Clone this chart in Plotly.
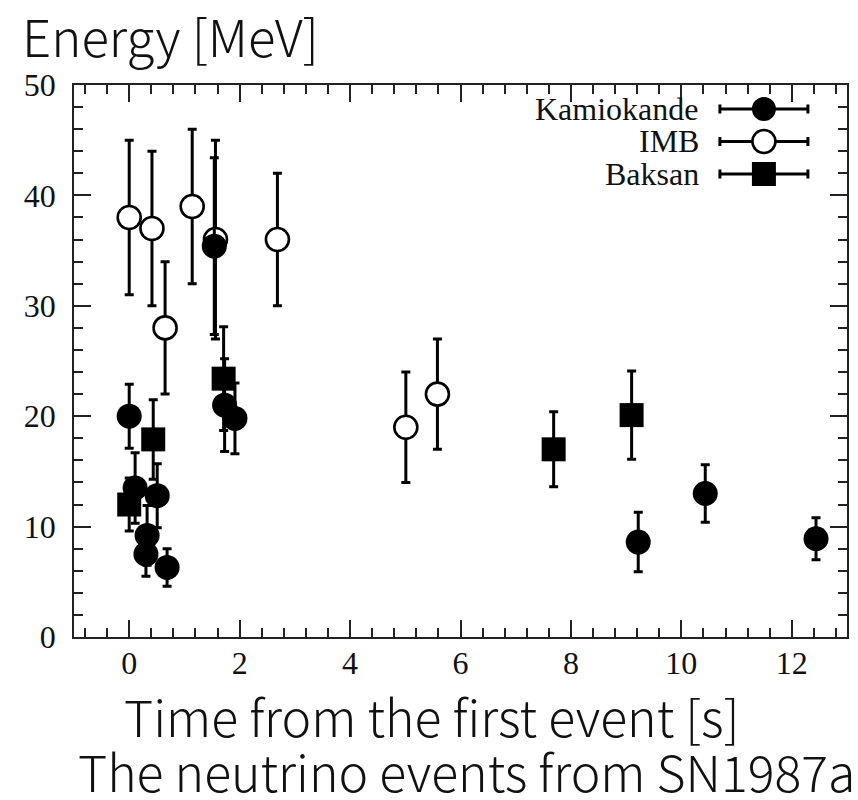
import plotly.graph_objects as go

# SN1987A neutrino events: time after first event [s], energy [MeV], error [MeV]
kam_t = [0.000, 0.107, 0.303, 0.324, 0.507, 0.686, 1.541, 1.728, 1.915, 9.219, 10.433, 12.439]
kam_e = [20.0, 13.5, 7.5, 9.2, 12.8, 6.3, 35.4, 21.0, 19.8, 8.6, 13.0, 8.9]
kam_err = [2.9, 3.2, 2.0, 2.7, 2.9, 1.7, 8.0, 4.2, 3.2, 2.7, 2.6, 1.9]

imb_t = [0.000, 0.412, 0.650, 1.141, 1.562, 2.684, 5.010, 5.582]
imb_e = [38.0, 37.0, 28.0, 39.0, 36.0, 36.0, 19.0, 22.0]
imb_err = [7.0, 7.0, 6.0, 7.0, 9.0, 6.0, 5.0, 5.0]

bak_t = [0.000, 0.435, 1.710, 7.687, 9.099]
bak_e = [12.0, 17.9, 23.4, 17.0, 20.1]
bak_err = [2.4, 3.6, 4.7, 3.4, 4.0]

series_names = ["Kamiokande", "IMB", "Baksan"]

W, H = 858, 800
ML, MR, MT, MB = 74, 9, 85, 163
PW, PH = W - ML - MR, H - MT - MB

SERIF = "Liberation Serif"
SANS = "Noto Sans CJK JP"
INK = "#111111"


def px_x(px):
    return (px - ML) / PW


def px_y(py):
    return (H - MB - py) / PH


def err(arr):
    return dict(type="data", array=arr, visible=True, color="black",
                thickness=3, width=4.5)


fig = go.Figure()

fig.add_trace(go.Scatter(
    x=imb_t, y=imb_e, mode="markers", name=series_names[1],
    error_y=err(imb_err),
    marker=dict(symbol="circle", size=23, color="white",
                line=dict(color="black", width=2.6)),
))
fig.add_trace(go.Scatter(
    x=kam_t, y=kam_e, mode="markers", name=series_names[0],
    error_y=err(kam_err),
    marker=dict(symbol="circle", size=25, color="black", line=dict(width=0)),
))
fig.add_trace(go.Scatter(
    x=bak_t, y=bak_e, mode="markers", name=series_names[2],
    error_y=err(bak_err),
    marker=dict(symbol="square", size=24, color="black", line=dict(width=0)),
))

axis_common = dict(
    showline=True, linecolor="#222222", linewidth=1.5, mirror="allticks",
    ticks="inside", ticklen=17, tickwidth=1.5, tickcolor="#222222",
    showgrid=False, zeroline=False,
    tickfont=dict(family=SERIF, size=32, color=INK),
)

fig.update_xaxes(
    range=[-1, 13], dtick=2, tick0=0, ticklabelstandoff=-3,
    minor=dict(dtick=0.4, tick0=0, ticks="inside", ticklen=9,
               tickwidth=1.5, tickcolor="#222222"),
    **axis_common,
)
fig.update_yaxes(
    range=[0, 50], dtick=10, tick0=0, ticklabelstandoff=10,
    minor=dict(dtick=2, tick0=0, ticks="inside", ticklen=9,
               tickwidth=1.5, tickcolor="#222222"),
    **axis_common,
)

shapes = []
annotations = []

# hand-drawn key with horizontal error-bar samples
key_x = px_x(765.7)
key_rows = [109, 141.5, 174]
for name, row in zip(series_names, key_rows):
    ya = px_y(row)
    base = dict(xref="paper", yref="paper", xsizemode="pixel", ysizemode="pixel",
                xanchor=key_x, yanchor=ya, layer="above")
    shapes.append(dict(type="line", x0=-44, x1=44, y0=0, y1=0,
                       line=dict(color="black", width=3), **base))
    for cx in (-44, 44):
        shapes.append(dict(type="line", x0=cx, x1=cx, y0=-4.5, y1=4.5,
                           line=dict(color="black", width=3), **base))
    if name == "Kamiokande":
        shapes.append(dict(type="circle", x0=-12, x1=12, y0=-12, y1=12,
                           fillcolor="black", line=dict(width=0), **base))
    elif name == "IMB":
        shapes.append(dict(type="circle", x0=-11.5, x1=11.5, y0=-11.5, y1=11.5,
                           fillcolor="white", line=dict(color="black", width=2.6), **base))
    else:
        shapes.append(dict(type="rect", x0=-12, x1=12, y0=-12, y1=12,
                           fillcolor="black", line=dict(width=0), **base))
    annotations.append(dict(
        text=name, xref="paper", yref="paper", x=px_x(703), y=ya,
        xanchor="right", yanchor="middle", showarrow=False,
        font=dict(family=SERIF, size=32, color=INK),
    ))

# white band below the tick labels, under the caption text
shapes.append(dict(type="rect", xref="paper", yref="paper",
                   x0=px_x(0), x1=px_x(W), y0=px_y(H), y1=px_y(679),
                   fillcolor="white", line=dict(width=0), layer="above"))

annotations += [
    dict(text="Energy [MeV]", xref="paper", yref="paper",
         x=px_x(20), y=px_y(35), xanchor="left", yanchor="middle",
         showarrow=False, font=dict(family=SANS, size=51, color=INK, weight=300)),
    dict(text="Time from the first event [s]", xref="paper", yref="paper",
         x=px_x(432.5), y=px_y(715), xanchor="center", yanchor="middle",
         showarrow=False, font=dict(family=SANS, size=50, color=INK, weight=300)),
    dict(text="The neutrino events from SN1987a", xref="paper", yref="paper",
         x=px_x(467.5), y=px_y(770), xanchor="center", yanchor="middle",
         showarrow=False, font=dict(family=SANS, size=50, color=INK, weight=300)),
]

fig.update_layout(
    width=W, height=H,
    margin=dict(l=ML, r=MR, t=MT, b=MB, pad=0),
    paper_bgcolor="white", plot_bgcolor="white",
    showlegend=False,
    shapes=shapes, annotations=annotations,
)

fig.write_html("out.html")
